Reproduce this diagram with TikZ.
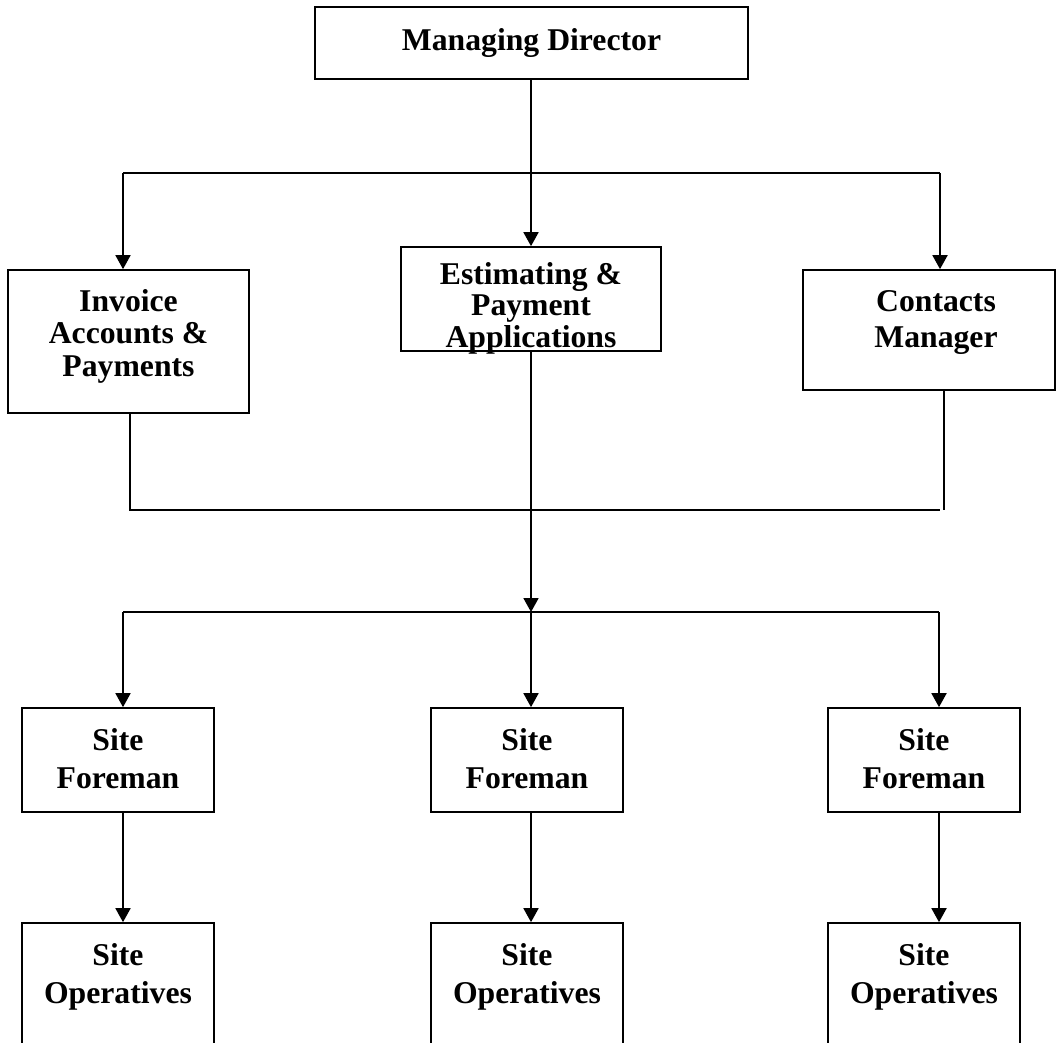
\documentclass[tikz,border=0pt]{standalone}
\usepackage{fontspec}
\setmainfont{Liberation Serif}
\usetikzlibrary{arrows.meta}
\begin{document}
\begin{tikzpicture}[x=1pt,y=-1pt,
  box/.style={draw, line width=1.7pt, inner sep=0pt},
  lbl/.style={font=\bfseries\fontsize{31.7}{#1}\selectfont, align=center, inner sep=0pt, anchor=north},
  lbl/.default=31,
  conn/.style={line width=1.8pt},
  arr/.style={conn, -{Triangle[length=14pt,width=15pt]}}]
\useasboundingbox (0,0) rectangle (1057,1042);
\clip (0,0) rectangle (1057,1042);
% boxes
\node[box, minimum width=433pt, minimum height=72pt] (md) at (531.5,43) {};
\node[box, minimum width=241pt, minimum height=143pt] (inv) at (128.5,341.5) {};
\node[box, minimum width=260pt, minimum height=104pt] (est) at (531,299) {};
\node[box, minimum width=252pt, minimum height=120pt] (ctm) at (929,330) {};
\node[box, minimum width=192pt, minimum height=104pt] (sf1) at (118,760) {};
\node[box, minimum width=192pt, minimum height=104pt] (sf2) at (527,760) {};
\node[box, minimum width=192pt, minimum height=104pt] (sf3) at (924,760) {};
\node[box, minimum width=192pt, minimum height=154pt] (so1) at (118,1000) {};
\node[box, minimum width=192pt, minimum height=154pt] (so2) at (527,1000) {};
\node[box, minimum width=192pt, minimum height=154pt] (so3) at (924,1000) {};
% texts
\node[lbl, anchor=base] (mdt) at (531.5,50) {Managing Director};
\node[lbl=32.5] (invt) at (128.5,289) {Invoice\\Accounts \&\\Payments};
\node[lbl=31.5] (estt) at (531,262) {Estimating \&\\Payment\\Applications};
\node[lbl=35.5] (ctmt) at (936,290.5) {Contacts\\Manager};
\node[lbl=38] (sf1t) at (118,728) {Site\\Foreman};
\node[lbl=38] (sf2t) at (527,728) {Site\\Foreman};
\node[lbl=38] (sf3t) at (924,728) {Site\\Foreman};
\node[lbl=38] (so1t) at (118,943) {Site\\Operatives};
\node[lbl=38] (so2t) at (527,943) {Site\\Operatives};
\node[lbl=38] (so3t) at (924,943) {Site\\Operatives};
% top bus
\coordinate (tb) at (531,173);
\coordinate (tbL) at (123,173);
\coordinate (tbR) at (940,173);
\draw[conn] (md.south -| tb) -- (tb);
\draw[conn] (tbL) -- (tbR);
\draw[arr] (tbL) -- (tbL |- inv.north);
\draw[arr] (tb) -- (tb |- est.north);
\draw[arr] (tbR) -- (tbR |- ctm.north);
% bottom bus
\coordinate (invd) at (130,510);
\coordinate (bbR) at (940,510);
\coordinate (ctmd) at (944,510);
\draw[conn] (invd |- inv.south) -- (invd) -- (bbR);
\draw[conn] (ctmd |- ctm.south) -- (ctmd);
% site bus
\coordinate (mb) at (531,612);
\coordinate (sbL) at (123,612);
\coordinate (sbR) at (939,612);
\draw[arr] (est.south -| mb) -- (mb);
\draw[conn] (sbL) -- (sbR);
\draw[arr] (sbL) -- (sbL |- sf1.north);
\draw[arr] (mb) -- (mb |- sf2.north);
\draw[arr] (sbR) -- (sbR |- sf3.north);
\draw[arr] (sbL |- sf1.south) -- (sbL |- so1.north);
\draw[arr] (mb |- sf2.south) -- (mb |- so2.north);
\draw[arr] (sbR |- sf3.south) -- (sbR |- so3.north);
\end{tikzpicture}
\end{document}
